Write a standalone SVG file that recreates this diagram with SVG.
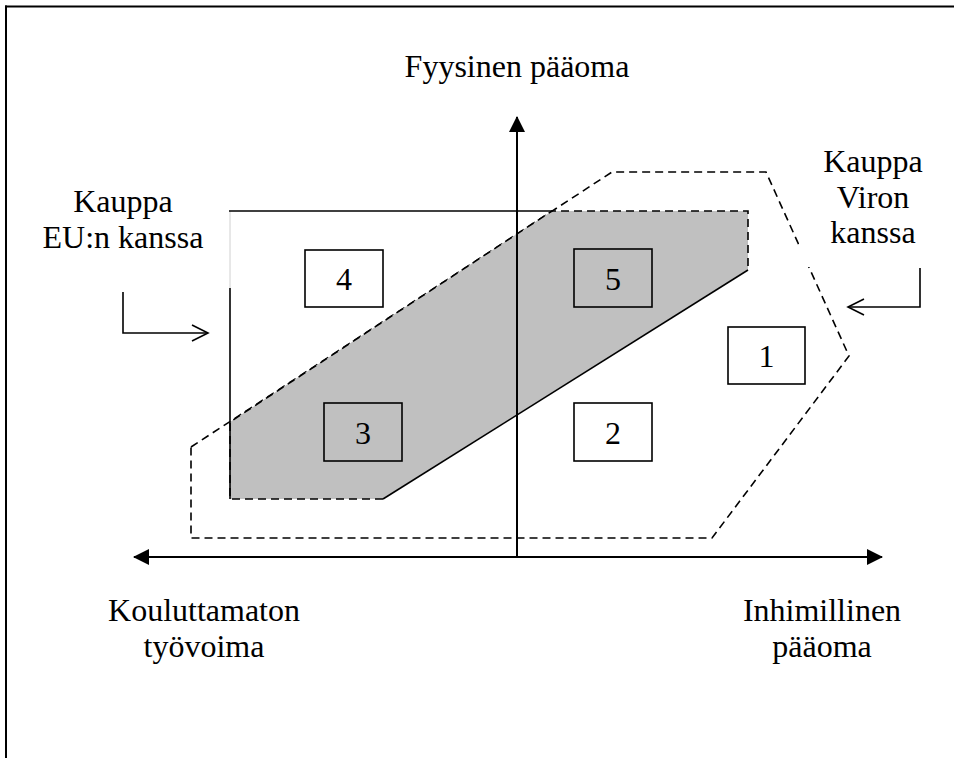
<svg xmlns="http://www.w3.org/2000/svg" width="954" height="758" viewBox="0 0 954 758">
<style>
text{font-family:"Liberation Serif","Times New Roman",serif;font-size:32px;fill:#000;text-anchor:middle}
.box{fill:#fff;stroke:#000;stroke-width:1.6}
.boxg{fill:none;stroke:#000;stroke-width:1.6}
.dash{fill:none;stroke:#000;stroke-width:1.6;stroke-dasharray:8,5}
.solid{fill:none;stroke:#000;stroke-width:1.6}
.axis{fill:none;stroke:#000;stroke-width:2}
</style>
<defs>
<marker id="tri" viewBox="0 0 16 16" refX="15" refY="8" markerUnits="userSpaceOnUse" markerWidth="16" markerHeight="16" orient="auto">
<path d="M0,0 L16,8 L0,16 Z" fill="#000"/>
</marker>
</defs>
<rect width="954" height="758" fill="#fff"/>
<g id="frame">
<line x1="5" y1="6.5" x2="954" y2="6.5" stroke="#000" stroke-width="2"/>
<line x1="6" y1="5.5" x2="6" y2="758" stroke="#000" stroke-width="2"/>
</g>
<g id="region-viro">
<polygon class="dash" points="191,447 612,172 766,172 849,356 712,538 191,538"/>
</g>
<g id="region-eu">
<polygon points="230,422 552,211 748,211 748,270 383,499 230,499" fill="#c0c0c0"/>
<polyline class="dash" points="383,499 230,499 230,422 552,211 748,211 748,270"/>
<line class="solid" x1="748" y1="270" x2="383" y2="499"/>
<line x1="230" y1="211" x2="230" y2="288" stroke="#d0d0d0" stroke-width="1"/>
<line class="solid" x1="230" y1="288" x2="230" y2="499"/>
<line class="solid" x1="229" y1="211" x2="553" y2="211"/>
</g>
<g id="label-viro-bg">
<rect x="799" y="140" width="150" height="127" fill="#fff"/>
</g>
<g id="node-4"><rect class="box" x="305" y="250" width="78" height="57"/><text x="344" y="290">4</text></g>
<g id="node-5"><rect class="boxg" x="574" y="249" width="78" height="58"/><text x="613" y="290">5</text></g>
<g id="node-1"><rect class="box" x="728" y="327" width="77" height="57"/><text x="766.5" y="367">1</text></g>
<g id="node-3"><rect class="boxg" x="324" y="403" width="78" height="58"/><text x="363" y="444">3</text></g>
<g id="node-2"><rect class="box" x="574" y="403" width="78" height="58"/><text x="613" y="444">2</text></g>
<g id="connectors">
<line class="axis" x1="517" y1="557" x2="517" y2="117" marker-end="url(#tri)"/>
<line class="axis" x1="517" y1="557" x2="134" y2="557" marker-end="url(#tri)"/>
<line class="axis" x1="517" y1="557" x2="882" y2="557" marker-end="url(#tri)"/>
<polyline class="solid" points="123,292 123,333 208,333"/>
<polyline class="solid" points="192,325 208,333 192,341"/>
<polyline class="solid" points="920,268 920,307 848,307"/>
<polyline class="solid" points="864,299 848,307 864,315"/>
</g>
<g id="labels">
<text x="517" y="77">Fyysinen pääoma</text>
<text x="123" y="212">Kauppa</text>
<text x="123" y="248">EU:n kanssa</text>
<text x="873" y="172">Kauppa</text>
<text x="873" y="208">Viron</text>
<text x="873" y="243">kanssa</text>
<text x="204" y="621">Kouluttamaton</text>
<text x="204" y="657">työvoima</text>
<text x="822" y="621">Inhimillinen</text>
<text x="822" y="657">pääoma</text>
</g>
</svg>
